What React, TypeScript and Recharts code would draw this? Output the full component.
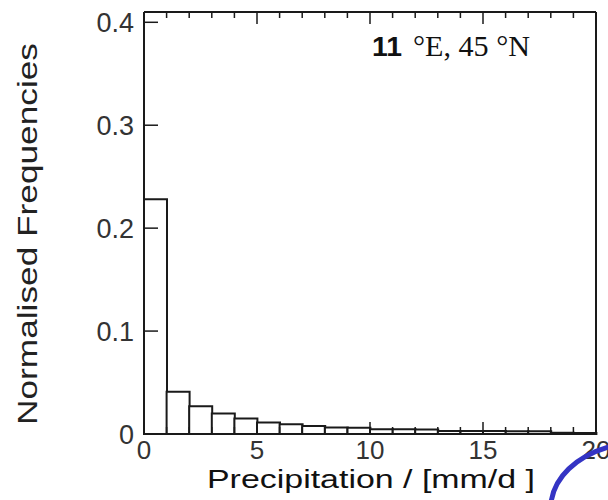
import { ComposedChart, Bar, XAxis, YAxis } from 'recharts';

// histogram bins of 1 mm/d
const binCenters = [0.5, 1.5, 2.5, 3.5, 4.5, 5.5, 6.5, 7.5, 8.5, 9.5, 10.5, 11.5, 12.5, 13.5, 14.5, 15.5, 16.5, 17.5, 18.5, 19.5];
const frequencies = [0.228, 0.041, 0.027, 0.02, 0.015, 0.0112, 0.0094, 0.0078, 0.0062, 0.006, 0.0047, 0.0045, 0.0043, 0.003, 0.003, 0.0028, 0.0027, 0.0026, 0.0012, 0.001];
const xTicks = [0, 1, 2, 3, 4, 5, 6, 7, 8, 9, 10, 11, 12, 13, 14, 15, 16, 17, 18, 19, 20];
const yTicks = [0, 0.1, 0.2, 0.3, 0.4];

const data = binCenters.map((x, i) => ({ x, freq: frequencies[i] }));

const SANS = '"Liberation Sans", Arial, Helvetica, sans-serif';
const SERIF = '"Liberation Serif", "Times New Roman", serif';
const INK = '#1a1a1a';

function BottomTick(props: any) {
  const { x, y, payload } = props;
  const v = payload.value;
  const major = v % 5 === 0;
  return (
    <g>
      <line x1={x} x2={x} y1={y} y2={y - (major ? 12 : 7)} stroke={INK} strokeWidth={1.5} />
      {major && (
        <text x={x} y={y + 25} textAnchor="middle" fontSize={26} fill="#333" fontFamily={SANS}>
          {v}
        </text>
      )}
    </g>
  );
}

function TopTick(props: any) {
  const { x, y, payload } = props;
  const major = payload.value % 5 === 0;
  return <line x1={x} x2={x} y1={y} y2={y + (major ? 12 : 6)} stroke={INK} strokeWidth={1.5} />;
}

function LeftTick(props: any) {
  const { x, y, payload } = props;
  return (
    <g>
      <line x1={x} x2={x + 14} y1={y} y2={y} stroke={INK} strokeWidth={1.5} />
      <text x={x - 10} y={y} dy="0.36em" textAnchor="end" fontSize={27} fill="#333" fontFamily={SANS}>
        {payload.value}
      </text>
    </g>
  );
}

function RightTick(props: any) {
  const { x, y } = props;
  return <line x1={x} x2={x - 13} y1={y} y2={y} stroke={INK} strokeWidth={1.5} />;
}

const frame = { stroke: INK, strokeWidth: 2 };

export default function App() {
  return (
    <div style={{ position: 'absolute', left: 0, top: 0, width: 608, height: 500, background: '#fff' }}>
      <ComposedChart
        width={608}
        height={500}
        data={data}
        margin={{ top: 11, right: 11, bottom: 0, left: 0 }}
        barCategoryGap={0}
        barGap={0}
      >
        <XAxis
          dataKey="x"
          type="number"
          domain={[0, 20]}
          ticks={xTicks}
          interval={0}
          height={66}
          tickSize={0}
          tickMargin={0}
          axisLine={frame}
          tick={<BottomTick />}
        />
        <XAxis
          xAxisId="top"
          orientation="top"
          dataKey="x"
          type="number"
          domain={[0, 20]}
          ticks={xTicks}
          interval={0}
          height={1}
          tickSize={0}
          tickMargin={0}
          axisLine={frame}
          tick={<TopTick />}
        />
        <YAxis
          type="number"
          domain={[0, 0.41]}
          ticks={yTicks}
          interval={0}
          width={144}
          tickSize={0}
          tickMargin={0}
          axisLine={frame}
          tick={<LeftTick />}
        />
        <YAxis
          yAxisId="right"
          orientation="right"
          type="number"
          domain={[0, 0.41]}
          ticks={yTicks}
          interval={0}
          width={1}
          tickSize={0}
          tickMargin={0}
          axisLine={frame}
          tick={<RightTick />}
        />
        <Bar dataKey="freq" fill="#fff" stroke={INK} strokeWidth={2} isAnimationActive={false} />
      </ComposedChart>
      <svg
        width={608}
        height={500}
        style={{ position: 'absolute', left: 0, top: 0, pointerEvents: 'none' }}
      >
        <text
          x={37}
          y={234}
          transform="rotate(-90 37 234)"
          textAnchor="middle"
          fontSize={28}
          fill="#222"
          fontFamily={SANS}
          textLength={382}
          lengthAdjust="spacingAndGlyphs"
        >
          Normalised Frequencies
        </text>
        <text
          x={207}
          y={488}
          fontSize={25}
          fill="#111"
          fontFamily={SANS}
          textLength={328}
          lengthAdjust="spacingAndGlyphs"
        >
          Precipitation / [mm/d ]
        </text>
        <text x={372} y={56} fontSize={27} fontWeight="bold" fill="#111" fontFamily={SANS} textLength={30} lengthAdjust="spacingAndGlyphs">
          11
        </text>
        <text x={413} y={56} fontSize={29} fill="#111" fontFamily={SERIF} textLength={117} lengthAdjust="spacingAndGlyphs">
          °E, 45 °N
        </text>
        <path d="M 551 503 C 554 478, 575 456, 612 446" fill="none" stroke="#3434c4" strokeWidth={5} />
      </svg>
    </div>
  );
}
